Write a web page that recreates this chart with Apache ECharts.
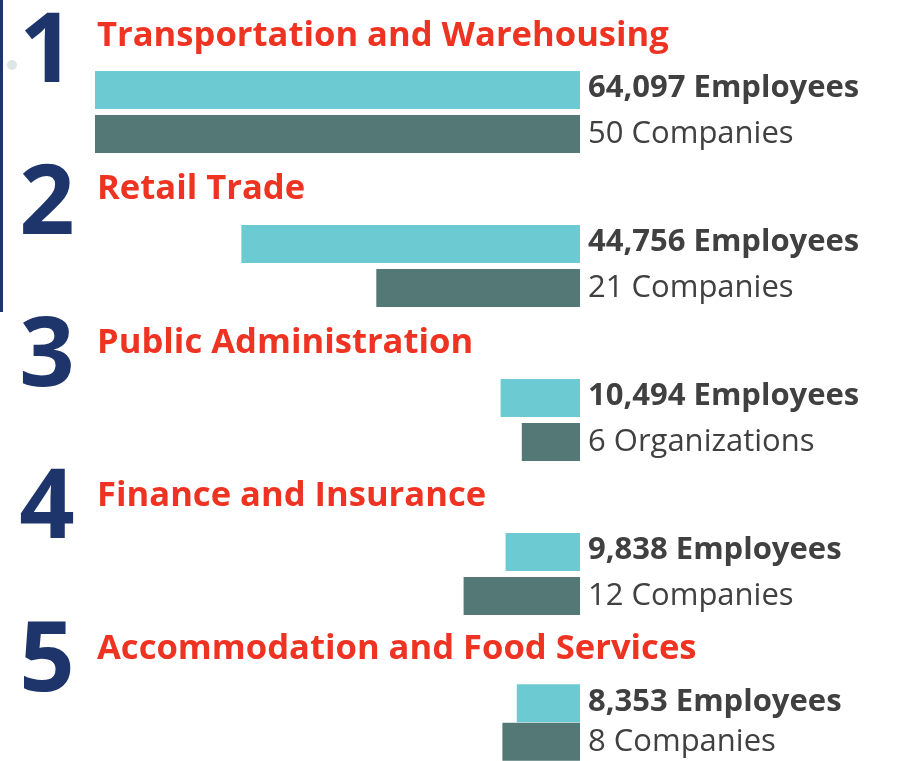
<!DOCTYPE html>
<html>
<head>
<meta charset="utf-8">
<script src="https://cdn.jsdelivr.net/npm/echarts@6/dist/echarts.min.js"></script>
<style>
html,body{margin:0;padding:0;background:#fff;}
#chart{width:902px;height:761px;}
</style>
</head>
<body>
<div id="chart"></div>
<script>
var ranks = ['1', '2', '3', '4', '5'];
var industries = ['Transportation and Warehousing', 'Retail Trade', 'Public Administration', 'Finance and Insurance', 'Accommodation and Food Services'];
var employees = [64097, 44756, 10494, 9838, 8353];
var companies = [50, 21, 6, 12, 8];
var companyUnits = ['Companies', 'Companies', 'Organizations', 'Companies', 'Companies'];

var FONT = '"Open Sans", sans-serif';
var BAR_PITCH = 154, TITLE_PITCH = 153.1, NUM_PITCH = 152.25;
var empMax = Math.max.apply(null, employees);
var compMax = Math.max.apply(null, companies);

var grids = [], xAxes = [], yAxes = [], series = [], graphics = [];

graphics.push({type: 'rect', shape: {x: 0, y: 0, width: 3, height: 312}, style: {fill: '#1e356c'}, silent: true});
graphics.push({type: 'circle', shape: {cx: 12, cy: 65, r: 5}, style: {fill: '#dde6e6'}, silent: true});

for (var i = 0; i < industries.length; i++) {
  grids.push({left: 95, width: 485, top: 68 + BAR_PITCH * i, height: 88, containLabel: false});
  xAxes.push({gridIndex: i, type: 'value', min: 0, max: empMax, inverse: true, show: false});
  xAxes.push({gridIndex: i, type: 'value', min: 0, max: compMax, inverse: true, show: false});
  yAxes.push({
    gridIndex: i, type: 'category', inverse: true, position: 'right',
    data: [employees[i].toLocaleString('en-US') + ' Employees', companies[i] + ' ' + companyUnits[i]],
    axisLine: {show: false}, axisTick: {show: false}, splitLine: {show: false},
    axisLabel: {
      margin: 8,
      formatter: function (v, idx) { return idx === 0 ? '{b|' + v + '}' : '{r|' + v + '}'; },
      rich: {
        b: {fontFamily: FONT, fontWeight: 'bold', fontSize: 31, color: '#404040', padding: [0, 0, 3, 0]},
        r: {fontFamily: FONT, fontWeight: 'normal', fontSize: 31, color: '#404040'}
      }
    }
  });
  series.push({
    type: 'bar', xAxisIndex: 2 * i, yAxisIndex: i, barWidth: 38, barGap: '-100%',
    data: [employees[i], '-'], itemStyle: {color: '#6ccbd2'}
  });
  series.push({
    type: 'bar', xAxisIndex: 2 * i + 1, yAxisIndex: i, barWidth: 38, barGap: '-100%',
    data: ['-', companies[i]], itemStyle: {color: '#537876'}
  });
  graphics.push({
    type: 'text', x: 47, y: 54 + NUM_PITCH * i,
    style: {text: ranks[i], fontFamily: FONT, fontWeight: 'bold', fontSize: 97, fill: '#1e356c', align: 'center', verticalAlign: 'middle'},
    silent: true
  });
  graphics.push({
    type: 'text', x: 97, y: 36.5 + TITLE_PITCH * i,
    style: {text: industries[i], fontFamily: FONT, fontWeight: 'bold', fontSize: 34.6, fill: '#ef3322', align: 'left', verticalAlign: 'middle'},
    silent: true
  });
}

var chart = echarts.init(document.getElementById('chart'));
chart.setOption({
  animation: false,
  grid: grids, xAxis: xAxes, yAxis: yAxes, series: series, graphic: graphics
});
</script>
</body>
</html>
